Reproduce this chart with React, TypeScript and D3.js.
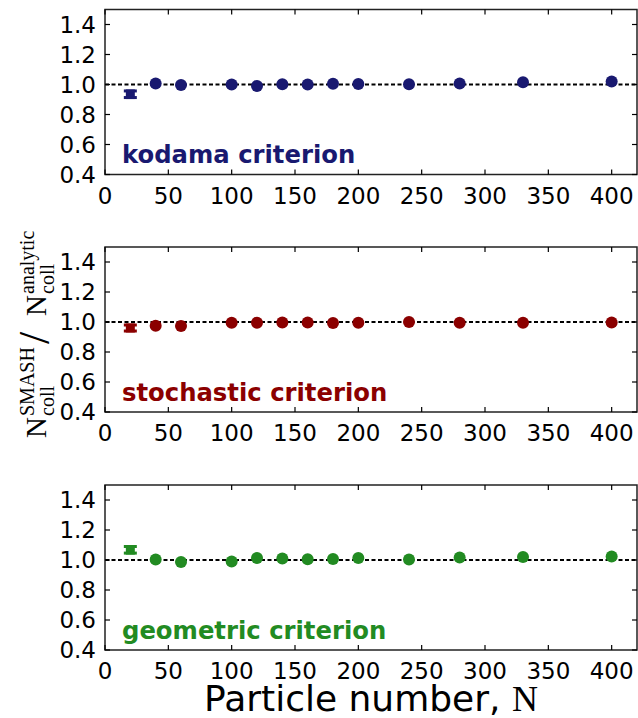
import React from "react";
import * as d3 from "d3";

const particleN = [20, 40, 60, 100, 120, 140, 160, 180, 200, 240, 280, 330, 400];
const kodamaRatio = [0.935, 1.007, 0.997, 1.0, 0.99, 1.002, 1.0, 1.005, 1.003, 1.002, 1.007, 1.015, 1.02];
const stochasticRatio = [0.96, 0.975, 0.973, 0.995, 0.995, 0.997, 0.997, 0.993, 0.995, 1.0, 0.995, 0.995, 0.997];
const geometricRatio = [1.068, 1.003, 0.987, 0.99, 1.013, 1.01, 1.005, 1.007, 1.013, 1.003, 1.017, 1.02, 1.023];
const firstPointError = [0.032, 0.03, 0.032];
const criterionLabels = ["kodama criterion", "stochastic criterion", "geometric criterion"];
const seriesColors = ["#191970", "#8b0000", "#228b22"];
const xTicks = [0, 50, 100, 150, 200, 250, 300, 350, 400];
const yTicks = [0.4, 0.6, 0.8, 1.0, 1.2, 1.4];

const W = 638;
const H = 718;
const left = 105;
const right = 637;
const panelTops = [9.5, 247, 485];
const panelH = 165;
const sans = "'DejaVu Sans', sans-serif";
const serif = "'Liberation Serif', 'DejaVu Serif', serif";

function Panel({ top, values, color, label, err }: any) {
  const x = d3.scaleLinear().domain([0, 420]).range([left, right]);
  const y = d3.scaleLinear().domain([0.4, 1.5]).range([top + panelH, top]);
  const bottom = top + panelH;
  const tickLen = 5;
  return (
    <g>
      <line x1={x(0)} x2={x(420)} y1={y(1.0)} y2={y(1.0)} stroke="#000" strokeWidth={2} strokeDasharray="4,2.5" />
      {particleN.map((n, i) =>
        i === 0 ? (
          <g key={i}>
            <line x1={x(n)} x2={x(n)} y1={y(values[i] - err)} y2={y(values[i] + err)} stroke={color} strokeWidth={9} />
            <line x1={x(n) - 6.5} x2={x(n) + 6.5} y1={y(values[i] - err) - 1.5} y2={y(values[i] - err) - 1.5} stroke={color} strokeWidth={3} />
            <line x1={x(n) - 6.5} x2={x(n) + 6.5} y1={y(values[i] + err) + 1.5} y2={y(values[i] + err) + 1.5} stroke={color} strokeWidth={3} />
          </g>
        ) : (
          <circle key={i} cx={x(n)} cy={y(values[i])} r={6} fill={color} />
        )
      )}
      <rect x={left} y={top} width={right - left} height={panelH} fill="none" stroke="#222" strokeWidth={1.5} />
      {xTicks.map((t) => (
        <g key={"x" + t}>
          <line x1={x(t)} x2={x(t)} y1={bottom} y2={bottom - tickLen} stroke="#000" strokeWidth={1.2} />
          <line x1={x(t)} x2={x(t)} y1={top} y2={top + tickLen} stroke="#000" strokeWidth={1.2} />
          <text x={x(t)} y={bottom + 29} textAnchor="middle" fontFamily={sans} fontSize={23} fill="#000">
            {t}
          </text>
        </g>
      ))}
      {yTicks.map((t) => (
        <g key={"y" + t}>
          <line x1={left} x2={left + tickLen} y1={y(t)} y2={y(t)} stroke="#000" strokeWidth={1.2} />
          <line x1={right} x2={right - tickLen} y1={y(t)} y2={y(t)} stroke="#000" strokeWidth={1.2} />
          <text x={left - 9} y={y(t)} dy="0.36em" textAnchor="end" fontFamily={sans} fontSize={23} fill="#000">
            {t.toFixed(1)}
          </text>
        </g>
      ))}
      <text x={122} y={bottom - 11.5} fontFamily={sans} fontWeight="bold" fontSize={24.3} fill={color}>
        {label}
      </text>
    </g>
  );
}

export default function App() {
  const series = [kodamaRatio, stochasticRatio, geometricRatio];
  const main = 29;
  const small = 20;
  return (
    <svg width={W} height={H} style={{ position: "absolute", left: 0, top: 0, background: "#fff" }}>
      <rect x={0} y={0} width={W} height={H} fill="#fff" />
      {series.map((vals, i) => (
        <Panel key={i} top={panelTops[i]} values={vals} color={seriesColors[i]} label={criterionLabels[i]} err={firstPointError[i]} />
      ))}
      <g transform="translate(46,438) rotate(-90)" fontFamily={serif} fill="#000">
        <text x={0} y={0} fontSize={main}>N</text>
        <text x={22} y={-12} fontSize={small}>SMASH</text>
        <text x={22} y={8} fontSize={small}>coll</text>
        <text x={94} y={3} fontSize={44}>/</text>
        <text x={122} y={0} fontSize={main}>N</text>
        <text x={144} y={-12} fontSize={small}>analytic</text>
        <text x={144} y={8} fontSize={small}>coll</text>
      </g>
      <text x={(left + right) / 2} y={711} textAnchor="middle" fontSize={36} fill="#000">
        <tspan fontFamily={sans}>Particle number, </tspan>
        <tspan fontFamily={serif}>N</tspan>
      </text>
    </svg>
  );
}
